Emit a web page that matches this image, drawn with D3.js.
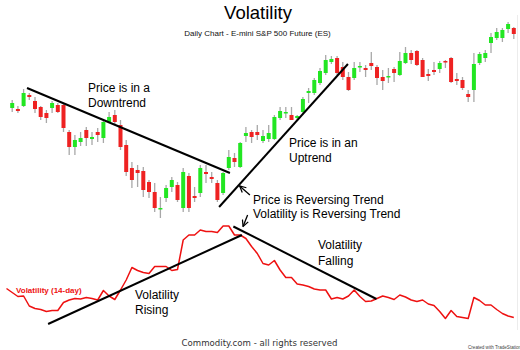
<!DOCTYPE html>
<html><head><meta charset="utf-8">
<script src="https://cdn.jsdelivr.net/npm/d3@7"></script>
<style>html,body{margin:0;padding:0;background:#fff;}svg{display:block;}</style>
</head><body>
<svg id="chart" width="520" height="350"></svg>
<script>
// ---- data (E-mini S&P 500 daily) ----
const opens  = [1322,1321,1324,1335,1329,1323,1317,1322,1325,1325,1298,1283,1288,1300,1291,1298,1292,1308,1315,1305,
                1285,1262,1260,1259,1248,1238,1221,1232,1243,1245,1222,1254,1234,1237,1258,1253,1247,1237,1262,1272,
                1263,1294,1298,1298,1289,1291,1291,1312,1317,1315,1312,1318,1337,1337,1347,1357,1368,1372,1363,1353,
                1352,1363,1362,1367,1363,1353,1353,1361,1355,1367,1377,1379,1370,1356,1360,1361,1369,1372,1351,1350,
                1336,1340,1367,1372,1387,1392,1392,1401,1402];
const highs  = [1330,1324,1341,1337,1333,1324,1320,1329,1327,1327,1300,1295,1298,1303,1298,1302,1310,1318,1320,1310,
                1290,1268,1265,1263,1250,1247,1233,1245,1253,1248,1262,1257,1243,1265,1265,1258,1250,1258,1280,1277,
                1288,1303,1300,1305,1300,1305,1315,1323,1323,1323,1315,1333,1342,1352,1362,1375,1374,1374,1368,1358,
                1368,1368,1365,1378,1365,1360,1362,1363,1378,1383,1380,1380,1372,1361,1368,1369,1370,1373,1357,1353,
                1340,1377,1378,1380,1397,1402,1402,1408,1403];
const lows   = [1318,1317,1323,1330,1317,1310,1307,1317,1317,1298,1275,1275,1284,1284,1285,1288,1287,1308,1305,1280,
                1254,1242,1243,1233,1232,1218,1212,1228,1238,1228,1218,1218,1228,1233,1247,1247,1228,1235,1260,1263,
                1262,1288,1287,1290,1287,1288,1290,1310,1312,1310,1310,1317,1327,1335,1345,1355,1366,1355,1350,1339,
                1350,1358,1353,1360,1345,1340,1347,1348,1354,1366,1366,1364,1353,1349,1355,1357,1362,1347,1345,1340,
                1328,1328,1365,1368,1377,1390,1388,1397,1391];
const closes = [1327,1319,1337,1333,1321,1313,1312,1327,1318,1302,1283,1290,1292,1292,1293,1295,1308,1313,1308,1283,
                1258,1250,1257,1240,1238,1222,1222,1242,1250,1230,1258,1222,1232,1262,1256,1251,1230,1257,1273,1268,
                1287,1297,1293,1295,1294,1297,1313,1319,1318,1310,1314,1331,1339,1350,1359,1370,1371,1357,1353,1340,
                1362,1364,1360,1364,1352,1349,1354,1357,1369,1377,1370,1365,1353,1354,1358,1367,1368,1348,1349,1342,
                1333,1366,1376,1377,1393,1398,1400,1406,1396];
// 14-day volatility (one value per day, starting one day before the first candle)
const volatility = [14.3,13.5,12.7,12.8,10.8,10.3,10.1,9.7,9.9,9.9,11.5,12.0,12.3,12.2,12.5,12.3,12.0,13.9,12.8,12.1,
                    14.0,16.0,18.5,17.9,17.5,17.3,18.7,18.7,18.7,17.9,18.1,24.0,25.0,25.0,26.0,25.7,25.7,25.5,26.8,26.8,
                    25.0,25.0,24.3,22.7,21.3,19.3,19.0,19.9,18.0,16.5,16.5,15.2,15.0,14.7,14.2,14.0,14.0,12.2,12.5,12.2,
                    12.8,14.0,12.7,11.7,11.8,12.3,12.8,12.5,12.1,13.0,12.6,12.0,11.7,12.0,11.2,10.9,9.7,8.3,9.9,8.7,
                    8.5,8.3,12.5,11.9,11.0,11.0,10.1,9.3,8.8,8.5];
// trend lines in data units: [day, value]
const priceTrends = [[[3.6,1342],[39.2,1257]], [[37.3,1223],[59.9,1366]]];
const volTrends   = [[[7.3,7.2],[41.3,25.0]], [[39.8,26.7],[64.9,12.2]]];

const svg = d3.select("#chart");
const nDays = volatility.length;
const x = d3.scaleLinear().domain([0, nDays - 1]).range([6.5, 513.8]);
const yP = d3.scaleLinear().domain([1200, 1430]).range([230, 0]);
const yV = d3.scaleLinear().domain([6, 28]).range([330, 220]);

const candles = opens.map((o,i)=>({day:i+1,o,h:highs[i],l:lows[i],c:closes[i]}));

// faint right border
svg.append("line").attr("x1",517.5).attr("x2",517.5).attr("y1",15).attr("y2",330)
  .attr("stroke","#ececec").attr("stroke-width",1);

// wicks
svg.append("g").selectAll("line").data(candles).join("line")
  .attr("x1",d=>x(d.day)).attr("x2",d=>x(d.day))
  .attr("y1",d=>yP(d.h)).attr("y2",d=>yP(d.l))
  .attr("stroke","#a8a8a8").attr("stroke-width",1.3);
// bodies
const bw = 4;
svg.append("g").selectAll("rect").data(candles).join("rect")
  .attr("x",d=>x(d.day)-bw/2).attr("width",bw)
  .attr("y",d=>yP(Math.max(d.o,d.c)))
  .attr("height",d=>Math.max(1.5, Math.abs(yP(d.o)-yP(d.c))))
  .attr("fill",d=>d.c>=d.o ? "#22e622" : "#ee2222");

// volatility line
svg.append("path").datum(volatility)
  .attr("d", d3.line().x((d,i)=>x(i)).y(d=>yV(d)))
  .attr("fill","none").attr("stroke","#ee1111").attr("stroke-width",1.5).attr("stroke-linejoin","round");

// trend lines
svg.append("g").selectAll("line").data(priceTrends).join("line")
  .attr("x1",d=>x(d[0][0])).attr("y1",d=>yP(d[0][1]))
  .attr("x2",d=>x(d[1][0])).attr("y2",d=>yP(d[1][1]))
  .attr("stroke","#000").attr("stroke-width",2);
svg.append("g").selectAll("line").data(volTrends).join("line")
  .attr("x1",d=>x(d[0][0])).attr("y1",d=>yV(d[0][1]))
  .attr("x2",d=>x(d[1][0])).attr("y2",d=>yV(d[1][1]))
  .attr("stroke","#000").attr("stroke-width",2);

// arrows
svg.append("defs").append("marker").attr("id","ah").attr("viewBox","0 0 10 10")
  .attr("refX",9).attr("refY",5).attr("markerWidth",6).attr("markerHeight",6).attr("orient","auto")
  .append("path").attr("d","M1,1 L9,5 L1,9").attr("fill","none").attr("stroke","#000").attr("stroke-width",1.6);
svg.append("line").attr("x1",x(42.7)).attr("y1",yP(1235)).attr("x2",x(40.9)).attr("y2",yP(1244))
  .attr("stroke","#000").attr("stroke-width",1.3).attr("marker-end","url(#ah)");
svg.append("line").attr("x1",x(42.3)).attr("y1",yV(29)).attr("x2",x(41.5)).attr("y2",yV(26.7))
  .attr("stroke","#000").attr("stroke-width",1.3).attr("marker-end","url(#ah)");

// texts
const F = "'Liberation Sans', Arial, sans-serif";
function t(str,xx,yy,size,opts={}){
  return svg.append("text").attr("x",xx).attr("y",yy).text(str)
    .attr("font-family",opts.family||F).attr("font-size",size)
    .attr("font-weight",opts.weight||"normal")
    .attr("fill",opts.fill||"#000").attr("text-anchor",opts.anchor||"start");
}
t("Volatility",258,18.5,18.5,{anchor:"middle"});
t("Daily Chart - E-mini S&P 500 Future (ES)",257.5,35.5,8,{anchor:"middle",fill:"#111"});
t("Price is in a",88,92,12); t("Downtrend",88,107,12);
t("Price is in an",289,146.5,12); t("Uptrend",289,162,12);
t("Price is Reversing Trend",253,203.5,12);
t("Volatility is Reversing Trend",253,217.7,12);
t("Volatility",318,249,12); t("Falling",318,265,12);
t("Volatility",135,298.5,12); t("Rising",135,313.5,12);
t("Volatility (14-day)",16,292.5,8,{weight:"bold",fill:"#ee1111"});
t("Commodity.com - all rights reserved",259.5,345.5,8.6,{anchor:"middle",family:"'DejaVu Sans', sans-serif",fill:"#333"});
t("Created with TradeStation",468,348.5,4.6,{fill:"#444"});
</script>
</body></html>
